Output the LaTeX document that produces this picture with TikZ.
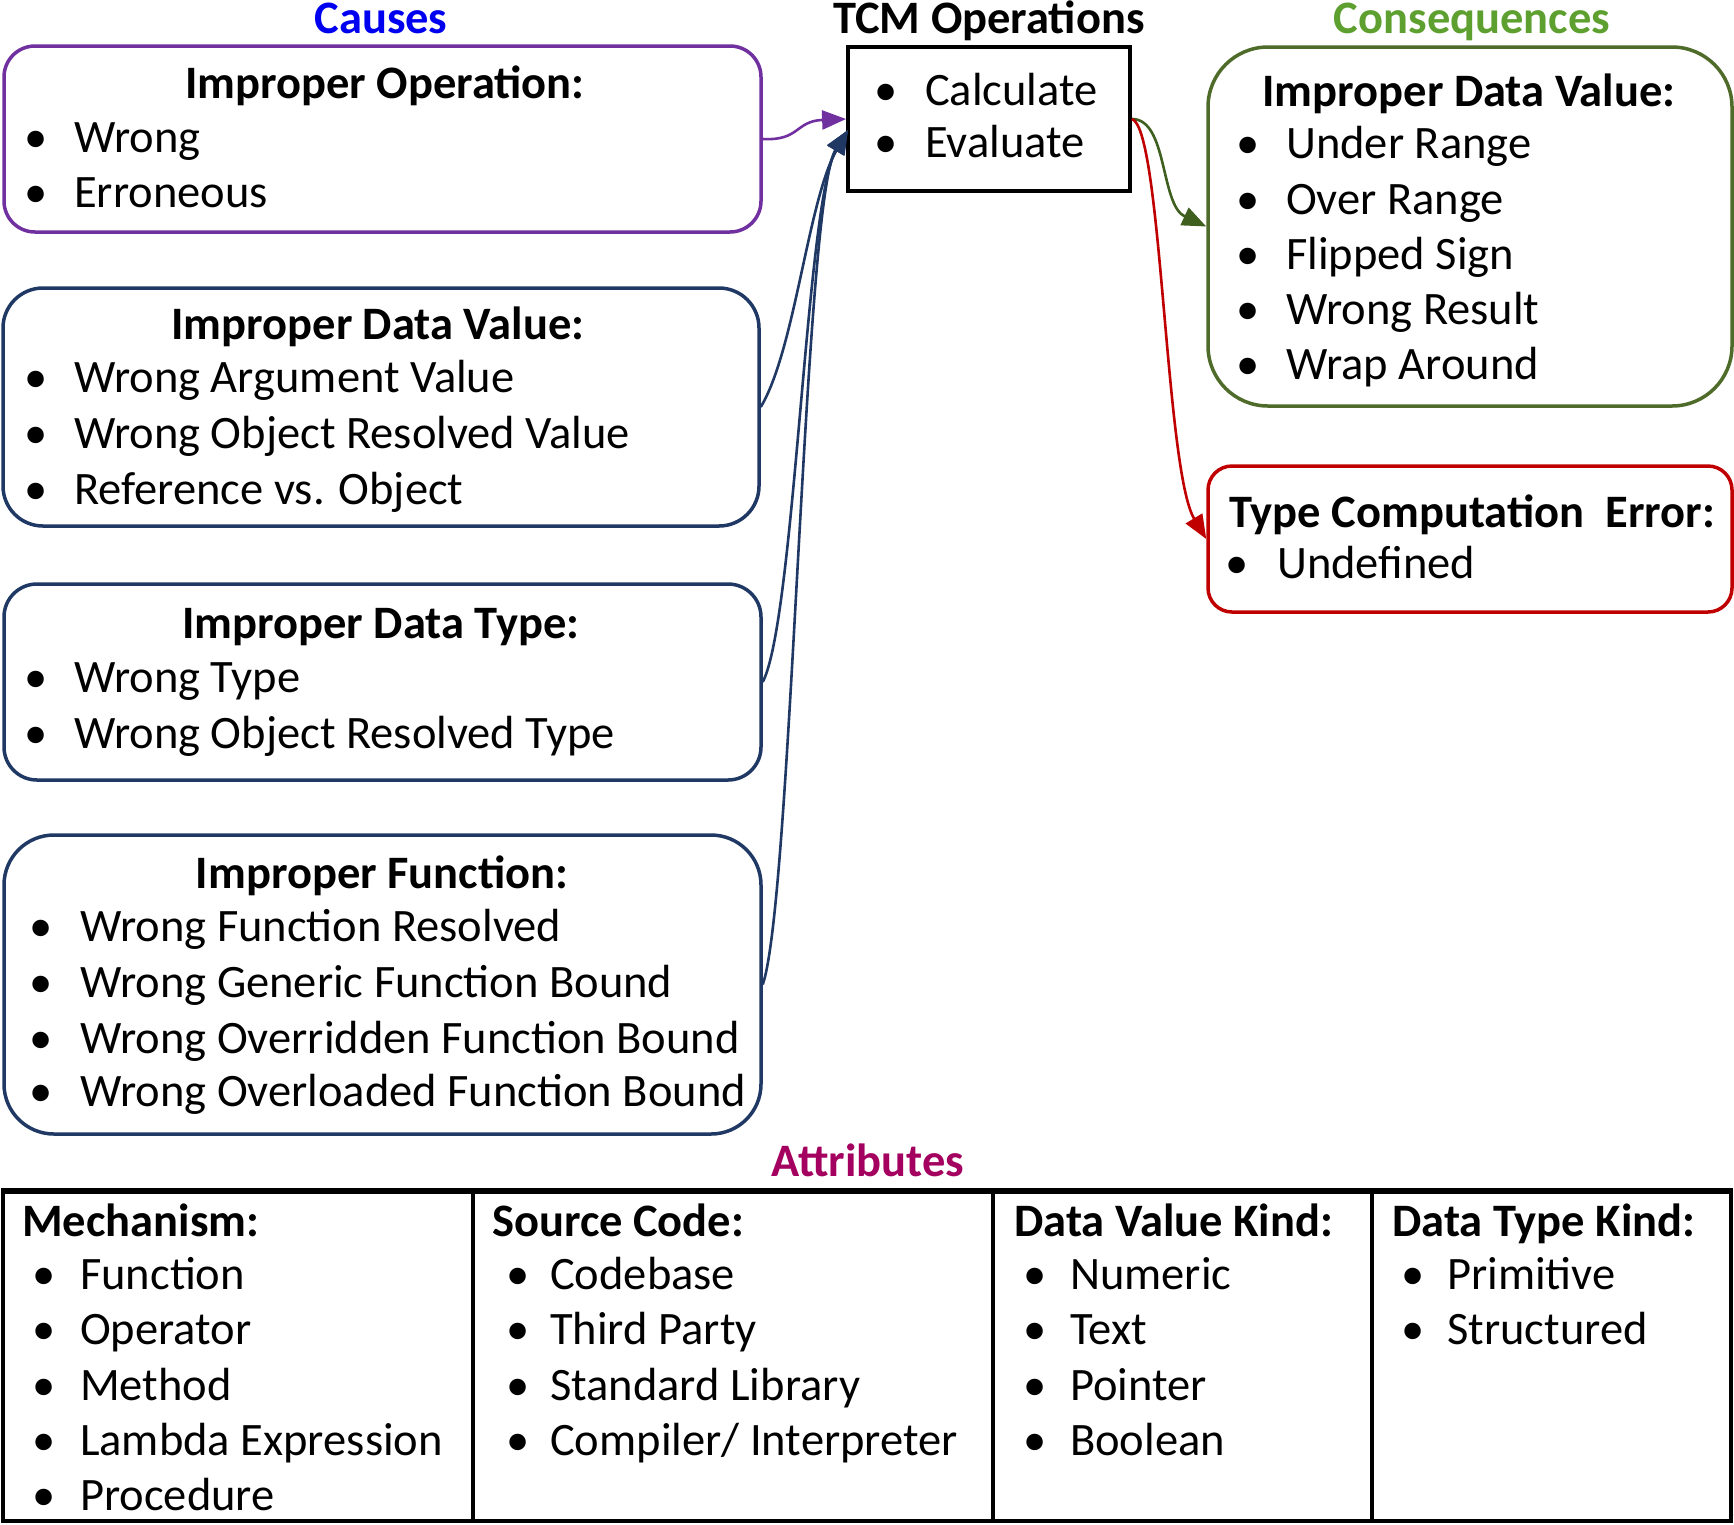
\documentclass[tikz,border=0pt]{standalone}
\usepackage{fontspec}
\setmainfont{Carlito}
\usetikzlibrary{arrows.meta}
\definecolor{cpurple}{HTML}{7030A0}
\definecolor{cnavy}{HTML}{203864}
\definecolor{cgreen}{HTML}{4E6B2A}
\definecolor{cgreenarrow}{HTML}{3F5F1F}
\definecolor{cred}{HTML}{C00000}
\definecolor{cblue}{HTML}{0000F0}
\definecolor{cgreentxt}{HTML}{5EA030}
\definecolor{cmag}{HTML}{A3005F}
\newcommand{\bul}[1]{\llap{\makebox[0pt]{•}\hspace{#1pt}}}
\begin{document}
\begin{tikzpicture}[x=1pt,y=-1pt,
  font=\fontsize{46.5}{56}\selectfont,
  txt/.style={inner sep=0pt, anchor=base west},
  ttl/.style={inner sep=0pt, anchor=base, font=\fontsize{46.5}{56}\selectfont\bfseries},
  hdr/.style={inner sep=0pt, anchor=base west, font=\fontsize{46.5}{56}\selectfont\bfseries},
  rbox/.style={draw, line width=3.5pt, rounded corners=#1, inner sep=0pt},
  conn/.style={line width=2.6pt, -{Triangle[length=24pt,width=19pt]}}]
\useasboundingbox (0,0) rectangle (1734,1524);

% ---------- boxes ----------
\node[rbox=31pt, draw=cpurple, minimum width=757pt, minimum height=186pt] (b1) at (382.5,139) {};
\node[rbox=40pt, draw=cnavy, minimum width=756pt, minimum height=238pt] (b2) at (381,407) {};
\node[rbox=33pt, draw=cnavy, minimum width=757pt, minimum height=196pt] (b3) at (382.5,682) {};
\node[rbox=50pt, draw=cnavy, minimum width=757pt, minimum height=299pt] (b4) at (382.5,984.5) {};
\node[draw, line width=3.8pt, inner sep=0pt, minimum width=282pt, minimum height=144pt] (tcm) at (989,119) {};
\node[rbox=60pt, draw=cgreen, minimum width=524pt, minimum height=359pt] (g) at (1470,226.5) {};
\node[rbox=24pt, draw=cred, minimum width=524pt, minimum height=146pt] (r) at (1470,539) {};

% ---------- headings ----------
\node[ttl, text=cblue] (hcauses) at (381,33) {Causes};
\node[ttl] (htcm) at (989,33) {TCM Operations};
\node[ttl, text=cgreentxt] (hcons) at (1472,33) {Consequences};
\node[ttl, text=cmag] (hattr) at (868,1176) {Attributes};

% ---------- causes ----------
\node[ttl] (t1) at (385,98) {Improper Operation:};
\node[txt] (t1a) at (74,152) {\bul{38}Wrong};
\node[txt] (t1b) at (74,207) {\bul{38}Erroneous};

\node[ttl] (t2) at (378,339) {Improper Data Value:};
\node[txt] (t2a) at (74,392) {\bul{38}Wrong Argument Value};
\node[txt] (t2b) at (74,448) {\bul{38}Wrong Object Resolved Value};
\node[txt] (t2c) at (74,504) {\bul{38}Reference vs. Object};

\node[ttl] (t3) at (381,638) {Improper Data Type:};
\node[txt] (t3a) at (74,692) {\bul{38}Wrong Type};
\node[txt] (t3b) at (74,748) {\bul{38}Wrong Object Resolved Type};

\node[ttl] (t4) at (382,888) {Improper Function:};
\node[txt] (t4a) at (80,941) {\bul{39}Wrong Function Resolved};
\node[txt] (t4b) at (80,997) {\bul{39}Wrong Generic Function Bound};
\node[txt] (t4c) at (80,1053) {\bul{39}Wrong Overridden Function Bound};
\node[txt] (t4d) at (80,1106) {\bul{39}Wrong Overloaded Function Bound};

% ---------- TCM operations ----------
\node[txt] (ta) at (925,105) {\bul{39}Calculate};
\node[txt] (tb) at (925,157) {\bul{39}Evaluate};

% ---------- consequences ----------
\node[ttl] (tg) at (1469,106) {Improper Data Value:};
\node[txt] (tga) at (1286,158) {\bul{38}Under Range};
\node[txt] (tgb) at (1286,214) {\bul{38}Over Range};
\node[txt] (tgc) at (1286,269) {\bul{38}Flipped Sign};
\node[txt] (tgd) at (1286,324) {\bul{38}Wrong Result};
\node[txt] (tge) at (1286,379) {\bul{38}Wrap Around};

\node[hdr] (tr) at (1229,527) {Type Computation\ \ Error:};
\node[txt] (tra) at (1277,578) {\bul{40}Undefined};

% ---------- connectors ----------
\coordinate (tin) at (848,130);
\draw[conn, cpurple] (b1.east) .. controls (800,141) and (795,121) .. (tcm.west);
\draw[conn, cnavy] (b2.east) .. controls (795,350) and (808,200) .. (tin);
\draw[conn, cnavy] (b3.east) .. controls (795,620) and (806,200) .. (tin);
\draw[conn, cnavy] (b4.east) .. controls (792,900) and (804,200) .. (tin);
\draw[conn, cgreenarrow] (tcm.east) .. controls (1168,119) and (1160,205) .. (g.west);
\draw[conn, cred] (tcm.east) .. controls (1162,128) and (1165,470) .. (r.west);

% ---------- attributes table ----------
\node[draw, line width=3.5pt, inner sep=0pt, minimum width=1728pt, minimum height=329pt] (tab) at (867,1356.5) {};
\draw[line width=5pt] (tab.north west) -- (tab.north east);
\coordinate (c1) at (473,1192);
\coordinate (c2) at (993,1192);
\coordinate (c3) at (1372,1192);
\draw[line width=3.5pt] (c1) -- (c1 |- tab.south);
\draw[line width=3.5pt] (c2) -- (c2 |- tab.south);
\draw[line width=3.5pt] (c3) -- (c3 |- tab.south);

\node[hdr] (m0) at (22,1236) {Mechanism:};
\node[txt] (m1) at (80,1289) {\bul{36}Function};
\node[txt] (m2) at (80,1344) {\bul{36}Operator};
\node[txt] (m3) at (80,1400) {\bul{36}Method};
\node[txt] (m4) at (80,1455) {\bul{36}Lambda Expression};
\node[txt] (m5) at (80,1510) {\bul{36}Procedure};

\node[hdr] (s0) at (492,1236) {Source Code:};
\node[txt] (s1) at (550,1289) {\bul{32}Codebase};
\node[txt] (s2) at (550,1344) {\bul{32}Third Party};
\node[txt] (s3) at (550,1400) {\bul{32}Standard Library};
\node[txt] (s4) at (550,1455) {\bul{32}Compiler/ Interpreter};

\node[hdr] (v0) at (1014,1236) {Data Value Kind:};
\node[txt] (v1) at (1070,1289) {\bul{35}Numeric};
\node[txt] (v2) at (1070,1344) {\bul{35}Text};
\node[txt] (v3) at (1070,1400) {\bul{35}Pointer};
\node[txt] (v4) at (1070,1455) {\bul{35}Boolean};

\node[hdr] (k0) at (1392,1236) {Data Type Kind:};
\node[txt] (k1) at (1447,1289) {\bul{34}Primitive};
\node[txt] (k2) at (1447,1344) {\bul{34}Structured};
\end{tikzpicture}
\end{document}
